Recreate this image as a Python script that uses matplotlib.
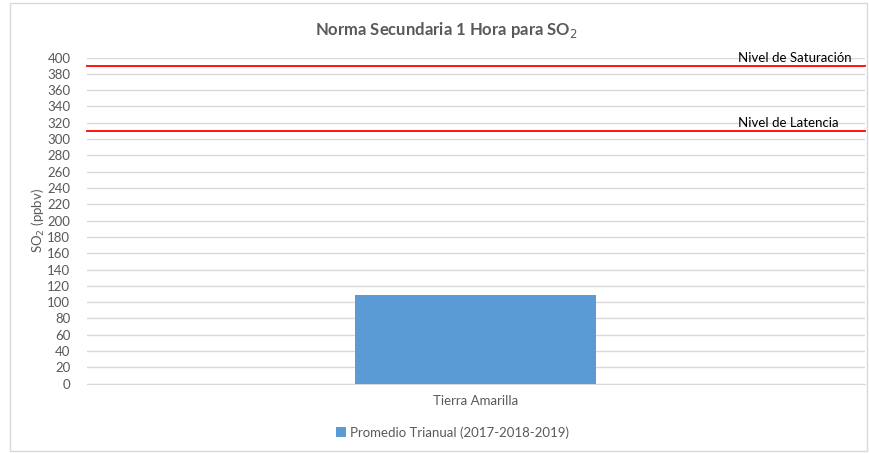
import matplotlib.pyplot as plt
from matplotlib.patches import Rectangle

plt.rcParams['font.family'] = ['Lato', 'DejaVu Sans']

categories = ['Tierra Amarilla']
promedio = [109]
serie_label = 'Promedio Trianual (2017-2018-2019)'
nivel_saturacion = 390
nivel_latencia = 310
yticks = list(range(0, 401, 20))

gray = '#595959'

fig = plt.figure(figsize=(8.7, 4.53), dpi=100)
fig.patches.append(Rectangle((0.012, 0.004), 0.985, 0.99, transform=fig.transFigure,
                             fill=False, edgecolor='#d9d9d9', linewidth=1))
ax = fig.add_axes([0.1, 0.153, 0.894, 0.72])

ax.bar(categories, promedio, width=0.31, color='#5b9bd5', label=serie_label, zorder=3)
ax.set_xlim(-0.5, 0.5)
ax.set_ylim(0, 400)
ax.set_yticks(yticks)
ax.tick_params(axis='y', length=0, labelsize=9.5, colors=gray, pad=12)
ax.tick_params(axis='x', length=0, labelsize=9.5, colors=gray, pad=8)
ax.grid(axis='y', color='#d9d9d9', linewidth=1, zorder=0)
for s in ['top', 'right', 'left']:
    ax.spines[s].set_visible(False)
ax.spines['bottom'].set_color('#d9d9d9')

ax.axhline(nivel_saturacion, color='#ff0000', linewidth=1.3, zorder=4, clip_on=False)
ax.axhline(nivel_latencia, color='#ff0000', linewidth=1.3, zorder=4, clip_on=False)
ax.text(0.337, nivel_saturacion + 2, 'Nivel de Saturación', fontsize=9.5, color='black',
        va='bottom', ha='left')
ax.text(0.337, nivel_latencia + 2, 'Nivel de Latencia', fontsize=9.5, color='black',
        va='bottom', ha='left')

ax.set_ylabel('SO$_2$ (ppbv)', fontsize=9.5, color=gray, labelpad=0)
fig.suptitle('Norma Secundaria 1 Hora para SO$_2$', x=0.513, y=0.955, fontsize=12,
             fontweight='bold', color=gray)

fig.legend(loc='center', bbox_to_anchor=(0.52, 0.045), frameon=False, fontsize=9.5,
           labelcolor=gray, handlelength=0.8, handleheight=0.8, handletextpad=0.3)

fig.savefig('out.png', dpi=100)
